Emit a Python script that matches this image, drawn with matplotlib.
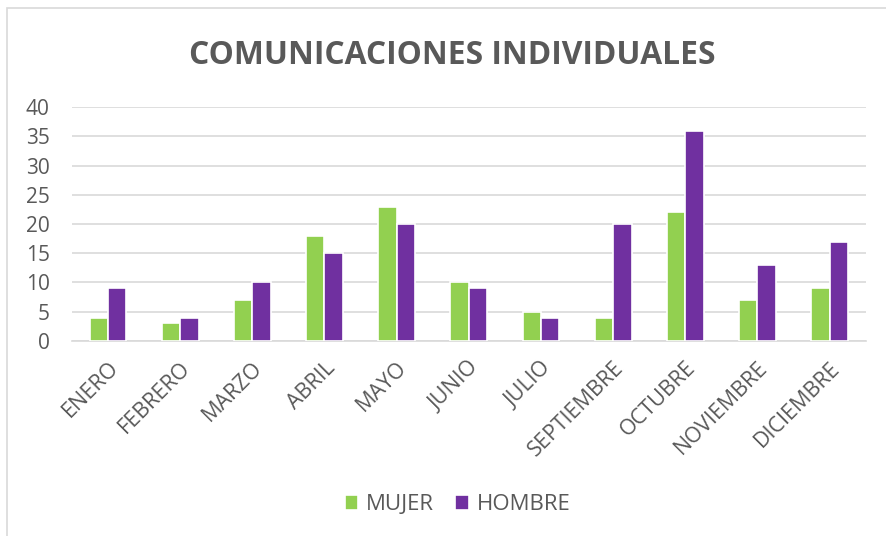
import matplotlib
matplotlib.use("Agg")
import matplotlib.pyplot as plt
import numpy as np
from matplotlib.patches import Rectangle

months = ["ENERO", "FEBRERO", "MARZO", "ABRIL", "MAYO", "JUNIO", "JULIO",
          "SEPTIEMBRE", "OCTUBRE", "NOVIEMBRE", "DICIEMBRE"]
mujer = [4, 3, 7, 18, 23, 10, 5, 4, 22, 7, 9]
hombre = [9, 4, 10, 15, 20, 9, 4, 20, 36, 13, 17]
yticks = [0, 5, 10, 15, 20, 25, 30, 35, 40]

plt.rcParams['font.family'] = ['Open Sans', 'DejaVu Sans']
txt = '#595959'

fig = plt.figure(figsize=(8.87, 5.36), dpi=100)
ax = fig.add_axes([0.081, 0.364, 0.895, 0.436])

x = np.arange(len(months))
w = 0.255
ax.bar(x - w/2, mujer, w, color='#92D050', edgecolor='white', linewidth=1.2, label='MUJER', zorder=3)
ax.bar(x + w/2, hombre, w, color='#7030A0', edgecolor='white', linewidth=1.2, label='HOMBRE', zorder=3)

ax.set_xlim(-0.5, len(months) - 0.5)
ax.set_ylim(0, 40)
ax.set_yticks(yticks)
ax.yaxis.grid(True, color='#D9D9D9', linewidth=1.2, zorder=0)
ax.set_axisbelow(True)
for s in ['top', 'right', 'left']:
    ax.spines[s].set_visible(False)
ax.spines['bottom'].set_color('#D9D9D9')
ax.spines['bottom'].set_linewidth(1.2)
ax.tick_params(axis='y', length=0, labelsize=15, labelcolor=txt, pad=16)
ax.set_xticks(x)
ax.set_xticklabels(months, rotation=45, ha='right', rotation_mode='anchor')
ax.tick_params(axis='x', length=0, labelsize=15.5, labelcolor=txt, pad=12)

fig.text(0.51, 0.897, "COMUNICACIONES INDIVIDUALES", ha='center', va='center',
         fontsize=22.9, fontweight='bold', color=txt)

leg = fig.legend(loc='center', bbox_to_anchor=(0.516, 0.058), ncol=2, frameon=False,
                 fontsize=16, handlelength=0.62, handleheight=0.62, columnspacing=0.95,
                 handletextpad=0.35)
for t in leg.get_texts():
    t.set_color(txt)

fig.patches.append(Rectangle((7/887, -0.1), 1.2, 1 - 8/536 + 0.1, transform=fig.transFigure,
                             fill=False, edgecolor='#D9D9D9', linewidth=1.2))

fig.savefig("out.png", dpi=100)
